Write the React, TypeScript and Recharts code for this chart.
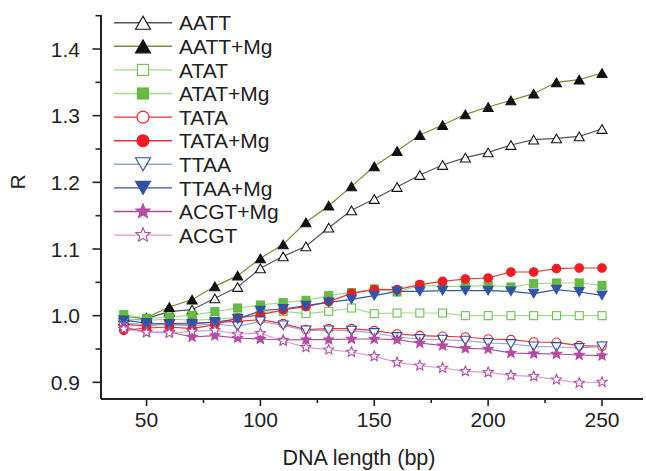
import React from "react";
import { LineChart, Line, XAxis, YAxis, Legend } from "recharts";

const lengths = [40, 50, 60, 70, 80, 90, 100, 110, 120, 130, 140, 150, 160, 170, 180, 190, 200, 210, 220, 230, 240, 250];

const aatt = [0.993, 0.996, 1.006, 1.009, 1.026, 1.043, 1.071, 1.089, 1.104, 1.132, 1.158, 1.175, 1.193, 1.211, 1.226, 1.237, 1.245, 1.256, 1.264, 1.266, 1.269, 1.28];
const aattMg = [0.998, 0.997, 1.013, 1.024, 1.044, 1.06, 1.086, 1.107, 1.14, 1.165, 1.194, 1.224, 1.247, 1.271, 1.286, 1.302, 1.313, 1.323, 1.333, 1.35, 1.354, 1.364];
const atat = [0.995, 0.993, 0.995, 0.993, 0.995, 0.997, 1.005, 1.0065, 1.003, 1.0065, 1.0115, 1.003, 1.004, 1.004, 1.004, 1.0, 1.0, 1.0, 1.0, 1.0, 1.0, 1.0];
const atatMg = [1.0015, 0.996, 0.998, 1.0005, 1.006, 1.0115, 1.016, 1.0195, 1.023, 1.03, 1.0345, 1.04, 1.0355, 1.0455, 1.044, 1.044, 1.0455, 1.043, 1.048, 1.049, 1.049, 1.0455];
const tata = [0.9865, 0.985, 0.988, 0.989, 0.99, 0.9915, 0.994, 0.988, 0.979, 0.9805, 0.9805, 0.9775, 0.9725, 0.97, 0.969, 0.968, 0.965, 0.964, 0.9605, 0.96, 0.955, 0.954];
const tataMg = [0.978, 0.9815, 0.983, 0.9805, 0.9865, 0.9965, 1.0015, 1.0085, 1.0135, 1.021, 1.0335, 1.039, 1.039, 1.0465, 1.0515, 1.055, 1.0565, 1.0655, 1.0655, 1.0705, 1.0715, 1.0715];
const ttaa = [0.989, 0.9865, 0.9865, 0.985, 0.9875, 0.984, 0.9915, 0.9855, 0.978, 0.978, 0.9775, 0.974, 0.968, 0.965, 0.964, 0.9625, 0.959, 0.9575, 0.954, 0.953, 0.9515, 0.954];
const ttaaMg = [0.993, 0.989, 0.9875, 0.9875, 0.9905, 0.995, 1.0075, 1.01, 1.015, 1.02, 1.0245, 1.03, 1.0365, 1.0365, 1.0375, 1.0375, 1.0375, 1.0365, 1.033, 1.039, 1.0355, 1.0305];
const acgtMg = [0.983, 0.975, 0.9755, 0.968, 0.97, 0.9665, 0.965, 0.9635, 0.964, 0.964, 0.965, 0.965, 0.964, 0.959, 0.955, 0.951, 0.95, 0.944, 0.943, 0.9425, 0.941, 0.94];
const acgt = [0.98, 0.975, 0.974, 0.9765, 0.978, 0.9725, 0.9735, 0.962, 0.9525, 0.949, 0.9455, 0.939, 0.93, 0.925, 0.9215, 0.9165, 0.915, 0.9105, 0.909, 0.904, 0.899, 0.9005];

const xTicks = [50, 75, 100, 125, 150, 175, 200, 225, 250];
const yTicks = [0.9, 0.95, 1.0, 1.05, 1.1, 1.15, 1.2, 1.25, 1.3, 1.35, 1.4, 1.45];

const FONT = "'Liberation Sans', Arial, Helvetica, sans-serif";
const INK = "#222";

type Shape = "triUp" | "triDown" | "square" | "circle" | "star";

const series = [
  { key: "aatt", name: "AATT", values: aatt, line: "#555555", stroke: "#111111", fill: "#ffffff", shape: "triUp" as Shape },
  { key: "aattMg", name: "AATT+Mg", values: aattMg, line: "#8a8536", stroke: "#111111", fill: "#111111", shape: "triUp" as Shape },
  { key: "atat", name: "ATAT", values: atat, line: "#9ddb8c", stroke: "#6cc04e", fill: "#ffffff", shape: "square" as Shape },
  { key: "atatMg", name: "ATAT+Mg", values: atatMg, line: "#9ddb8c", stroke: "#5fb83f", fill: "#66bb44", shape: "square" as Shape },
  { key: "tata", name: "TATA", values: tata, line: "#ee3333", stroke: "#ee2222", fill: "#ffffff", shape: "circle" as Shape },
  { key: "tataMg", name: "TATA+Mg", values: tataMg, line: "#ee3333", stroke: "#ee1c24", fill: "#ee1c24", shape: "circle" as Shape },
  { key: "ttaa", name: "TTAA", values: ttaa, line: "#90a8dc", stroke: "#2c4ca6", fill: "#ffffff", shape: "triDown" as Shape },
  { key: "ttaaMg", name: "TTAA+Mg", values: ttaaMg, line: "#3355aa", stroke: "#3452a4", fill: "#3452a4", shape: "triDown" as Shape },
  { key: "acgtMg", name: "ACGT+Mg", values: acgtMg, line: "#b04aa0", stroke: "#b24da2", fill: "#b24da2", shape: "star" as Shape },
  { key: "acgt", name: "ACGT", values: acgt, line: "#dc9cd2", stroke: "#b24da2", fill: "#ffffff", shape: "star" as Shape },
];

const data = lengths.map((len, i) => {
  const row: Record<string, number> = { len };
  series.forEach((s) => (row[s.key] = s.values[i]));
  return row;
});

function starPoints(cx: number, cy: number, r: number) {
  const pts: string[] = [];
  for (let k = 0; k < 10; k++) {
    const rad = k % 2 === 0 ? r : r * 0.45;
    const a = -Math.PI / 2 + (k * Math.PI) / 5;
    pts.push(`${cx + rad * Math.cos(a)},${cy + rad * Math.sin(a)}`);
  }
  return pts.join(" ");
}

// one marker, size = rough width in px
function Marker({ shape, cx, cy, size, stroke, fill }: { shape: Shape; cx: number; cy: number; size: number; stroke: string; fill: string }) {
  const common = { stroke, fill, strokeWidth: 1.1 };
  const h = size * 0.87;
  if (shape === "triUp")
    return <polygon {...common} points={`${cx},${cy - h / 2} ${cx - size / 2},${cy + h / 2} ${cx + size / 2},${cy + h / 2}`} />;
  if (shape === "triDown")
    return <polygon {...common} points={`${cx},${cy + h / 2} ${cx - size / 2},${cy - h / 2} ${cx + size / 2},${cy - h / 2}`} />;
  if (shape === "square") return <rect {...common} x={cx - size / 2} y={cy - size / 2} width={size} height={size} />;
  if (shape === "circle") return <circle {...common} cx={cx} cy={cy} r={size / 2} />;
  return <polygon {...common} points={starPoints(cx, cy, size / 2)} />;
}

const plotSize: Record<Shape, number> = { triUp: 10, triDown: 10, square: 8, circle: 8.6, star: 10.5 };
const legendSize: Record<Shape, number> = { triUp: 15, triDown: 15, square: 11, circle: 12, star: 15 };

function XTick({ x, y, payload }: any) {
  const major = payload.value % 50 === 0;
  return (
    <g>
      <line x1={x} x2={x} y1={y} y2={y + (major ? 7 : 4)} stroke={INK} strokeWidth={1.6} />
      {major && (
        <text x={x} y={y + 28} textAnchor="middle" fontSize={21} fontFamily={FONT} fill={INK}>
          {payload.value}
        </text>
      )}
    </g>
  );
}

function YTick({ x, y, payload }: any) {
  const v = payload.value;
  const major = Math.abs(v * 10 - Math.round(v * 10)) < 1e-6;
  return (
    <g>
      <line x1={x} x2={x - (major ? 8.5 : 5.5)} y1={y} y2={y} stroke={INK} strokeWidth={1.6} />
      {major && (
        <text x={x - 21} y={y + 7.5} textAnchor="end" fontSize={21} fontFamily={FONT} fill={INK}>
          {v.toFixed(1)}
        </text>
      )}
    </g>
  );
}

function LegendBox() {
  return (
    <svg width={220} height={250} style={{ display: "block" }}>
      {series.map((s, i) => {
        const cy = 22.7 + i * 23.6;
        return (
          <g key={s.key}>
            <line x1={1} x2={59} y1={cy} y2={cy} stroke={s.line} strokeWidth={1.4} />
            <Marker shape={s.shape} cx={30} cy={cy} size={legendSize[s.shape]} stroke={s.stroke} fill={s.fill} />
            <text x={66} y={cy + 7.6} fontSize={21} fontFamily={FONT} fill={INK}>
              {s.name}
            </text>
          </g>
        );
      })}
    </svg>
  );
}

export default function App() {
  return (
    <div style={{ position: "absolute", left: 0, top: 0, width: 646, height: 471, background: "#fff" }}>
      <LineChart width={646} height={471} data={data} margin={{ top: 15, right: 3, bottom: 22, left: 0 }}>
        <XAxis
          dataKey="len"
          type="number"
          domain={[30, 268]}
          ticks={xTicks}
          allowDataOverflow
          height={50}
          tickSize={0}
          tickMargin={0}
          tickLine={false}
          tick={<XTick />}
          axisLine={{ stroke: INK, strokeWidth: 2 }}
          label={{
            content: ({ viewBox }: any) => (
              <text x={viewBox.x + 258} y={465} textAnchor="middle" fontSize={21.5} fontFamily={FONT} fill={INK}>
                DNA length (bp)
              </text>
            ),
          }}
        />
        <YAxis
          type="number"
          domain={[0.875, 1.451]}
          ticks={yTicks}
          allowDataOverflow
          width={101}
          tickSize={0}
          tickMargin={0}
          tickLine={false}
          tick={<YTick />}
          axisLine={{ stroke: INK, strokeWidth: 2 }}
          label={{
            content: () => (
              <text x={25} y={182} transform="rotate(-90 25 182)" textAnchor="middle" fontSize={21} fontFamily={FONT} fill={INK}>
                R
              </text>
            ),
          }}
        />
        <Legend
          layout="vertical"
          align="center"
          verticalAlign="middle"
          wrapperStyle={{ top: 0, left: 113, width: 220 }}
          content={() => <LegendBox />}
        />
        {series.map((s) => (
          <Line
            key={s.key}
            dataKey={s.key}
            name={s.name}
            type="linear"
            stroke={s.line}
            strokeWidth={1.2}
            isAnimationActive={false}
            activeDot={false}
            dot={(p: any) => (
              <Marker key={`${s.key}-${p.index}`} shape={s.shape} cx={p.cx} cy={p.cy} size={plotSize[s.shape]} stroke={s.stroke} fill={s.fill} />
            )}
          />
        ))}
      </LineChart>
    </div>
  );
}
